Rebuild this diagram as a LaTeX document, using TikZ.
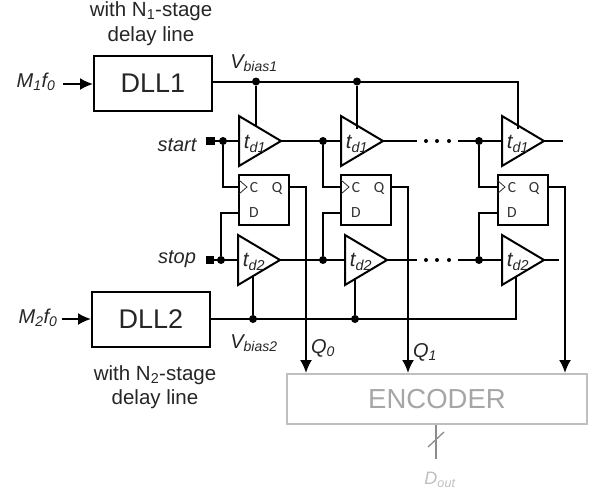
\documentclass[tikz,border=0pt]{standalone}
\usepackage{fontspec}
\setmainfont{Liberation Sans}
\newfontfamily\ffont{Carlito}
\usetikzlibrary{shapes.geometric,arrows.meta}
\tikzstyle{connector} = [line width=2pt]
\tikzstyle{arrowline} = [line width=2pt, -{Latex[length=13pt,width=12pt]}]
\tikzstyle{graywire} = [line width=1.3pt, color=black!45]
\tikzstyle{amp} = [draw, line width=2pt, isosceles triangle, isosceles triangle stretches, minimum width=50pt, minimum height=42pt, inner sep=0pt, outer sep=0pt, anchor=lower side]
\tikzstyle{dll} = [draw, line width=2pt, minimum width=118pt, minimum height=55pt, inner sep=0pt, font=\fontsize{27}{30}\selectfont, text=black!85]
\tikzstyle{ff} = [draw, line width=2pt, minimum width=50pt, minimum height=50pt, inner sep=0pt]
\tikzstyle{pin} = [font=\ffont\fontsize{15.5}{17}\selectfont, inner sep=0pt, text=black!80]
\tikzstyle{dot} = [circle, fill=black, inner sep=0pt, minimum size=8pt]
\tikzstyle{port} = [rectangle, fill=black, inner sep=0pt, minimum size=8.5pt]
\tikzstyle{lbl} = [font=\itshape\fontsize{20}{23}\selectfont, inner sep=0pt, text=black!85]
\tikzstyle{note} = [font=\fontsize{20.5}{24.5}\selectfont, align=center, inner sep=0pt, text=black!85]
\tikzstyle{delay} = [font=\itshape\fontsize{20.5}{23}\selectfont, inner sep=0pt, text=black!85]
\tikzstyle{clk} = [line width=0.8pt, color=black!85]

\begin{document}
\begin{tikzpicture}[x=1pt,y=-1pt]
    \useasboundingbox (0,0) rectangle (592,496);

    % the two locked loops
    \node (dll1) [dll] at (153,83.5) {DLL1};
    \node (dll2) [dll] at (151,319) {DLL2};
    \node (note1) [note] at (151,23.5) {with N\textsubscript{1}-stage\\delay line};
    \node (note2) [note] at (155,387) {with N\textsubscript{2}-stage\\delay line};
    \node (in1) [lbl] at (36,82) {M\textsubscript{1}f\textsubscript{0}};
    \node (in2) [lbl] at (38,318) {M\textsubscript{2}f\textsubscript{0}};
    \coordinate (in1e) at (63,84);
    \coordinate (in2e) at (62,319);
    \draw [arrowline] (in1e) -- (in1e -| dll1.west);
    \draw [arrowline] (in2e) -- (in2e -| dll2.west);

    % delay cells
    \node (a1) [amp] at (239,141) {};
    \node (a2) [amp] at (341,141) {};
    \node (a3) [amp] at (502,141) {};
    \node (b1) [amp] at (238,260) {};
    \node (b2) [amp] at (345,260) {};
    \node (b3) [amp] at (502,260) {};
    \node (ta1) [delay] at (255,144) {t\textsubscript{d1}};
    \node (ta2) [delay] at (357,144) {t\textsubscript{d1}};
    \node (ta3) [delay] at (518,144) {t\textsubscript{d1}};
    \node (tb1) [delay] at (254,262) {t\textsubscript{d2}};
    \node (tb2) [delay] at (361,262) {t\textsubscript{d2}};
    \node (tb3) [delay] at (518,262) {t\textsubscript{d2}};

    % flip flops
    \node (f1) [ff] at (264,200) {};
    \node (f2) [ff] at (366,200) {};
    \node (f3) [ff] at (522.5,200) {};
    \node (c1) [pin] at (254,188) {C};
    \node (q1) [pin] at (277,188) {Q};
    \node (d1) [pin] at (254,213) {D};
    \node (c2) [pin] at (356,188) {C};
    \node (q2) [pin] at (379,188) {Q};
    \node (d2) [pin] at (356,213) {D};
    \node (c3) [pin] at (512,188) {C};
    \node (q3) [pin] at (534,188) {Q};
    \node (d3) [pin] at (512,213) {D};
    \coordinate (ck1) at (239,187);
    \coordinate (ck2) at (341,187);
    \coordinate (ck3) at (497,187);
    \coordinate (dn1) at (239,213);
    \coordinate (dn2) at (341,213);
    \coordinate (dn3) at (497,213);
    \coordinate (qo1) at (289,187);
    \coordinate (qo2) at (391,187);
    \coordinate (qo3) at (548,187);
    \draw [clk] (239,180) -- (ck1 -| 247,0) -- (239,194);
    \draw [clk] (341,180) -- (ck2 -| 349,0) -- (341,194);
    \draw [clk] (497,180) -- (ck3 -| 505,0) -- (497,194);

    % input ports and taps
    \node (start) [port] at (210.5,141) {};
    \node (stop) [port] at (210,260) {};
    \node (startl) [lbl] at (177,145) {start};
    \node (stopl) [lbl] at (177,259) {stop};
    \node (sa1) [dot] at (223,141) {};
    \node (sa2) [dot] at (323,141) {};
    \node (sa3) [dot] at (479,141) {};
    \node (sb1) [dot] at (221,260) {};
    \node (sb2) [dot] at (323,260) {};
    \node (sb3) [dot] at (479,260) {};

    \draw [connector] (start) -- (a1.lower side);
    \draw [connector] (a1.apex) -- (a2.lower side);
    \coordinate (ga1) at (417,141);
    \coordinate (ga2) at (458,141);
    \coordinate (ga3) at (563,141);
    \draw [connector] (a2.apex) -- (ga1);
    \draw [connector] (ga2) -- (a3.lower side);
    \draw [connector] (a3.apex) -- (ga3);
    \draw [connector] (stop) -- (b1.lower side);
    \draw [connector] (b1.apex) -- (b2.lower side);
    \coordinate (gb1) at (417,260);
    \coordinate (gb2) at (458,260);
    \coordinate (gb3) at (559,260);
    \draw [connector] (b2.apex) -- (gb1);
    \draw [connector] (gb2) -- (b3.lower side);
    \draw [connector] (b3.apex) -- (gb3);

    \node (ga) [dot, minimum size=4pt] at (426,141) {};
    \node (gb) [dot, minimum size=4pt] at (437,141) {};
    \node (gc) [dot, minimum size=4pt] at (449,141) {};
    \node (gd) [dot, minimum size=4pt] at (426,260) {};
    \node (ge) [dot, minimum size=4pt] at (437,260) {};
    \node (gf) [dot, minimum size=4pt] at (449,260) {};

    \draw [connector] (sa1) |- (ck1);
    \draw [connector] (sa2) |- (ck2);
    \draw [connector] (sa3) |- (ck3);
    \draw [connector] (sb1) |- (dn1);
    \draw [connector] (sb2) |- (dn2);
    \draw [connector] (sb3) |- (dn3);

    % bias lines
    \node (v1) [dot] at (256,81.5) {};
    \node (v2) [dot] at (357,81.5) {};
    \node (w1) [dot] at (253,319) {};
    \node (w2) [dot] at (355,319) {};
    \coordinate (v3) at (518,81.5);
    \coordinate (w3) at (516,319);
    \coordinate (ea1) at (256,126);
    \coordinate (ea2) at (357,129);
    \coordinate (ea3) at (518,129);
    \coordinate (eb1) at (253,276);
    \coordinate (eb2) at (355,278);
    \coordinate (eb3) at (516,277);
    \draw [connector] (dll1.east |- v1) -- (v3) -- (ea3);
    \draw [connector] (dll2.east |- w1) -- (w3) -- (eb3);
    \draw [connector] (v1) -- (ea1);
    \draw [connector] (v2) -- (ea2);
    \draw [connector] (w1) -- (eb1);
    \draw [connector] (w2) -- (eb2);
    \node (vl1) [lbl] at (254,63) {V\textsubscript{bias1}};
    \node (vl2) [lbl] at (254,343) {V\textsubscript{bias2}};

    % encoder
    \node (enc) [draw=black!25, line width=2pt, minimum width=300pt, minimum height=50pt, inner sep=0pt, font=\fontsize{27.5}{30}\selectfont, text=black!35] at (437,399) {ENCODER};
    \draw [arrowline] (qo1) -| (enc.north -| 306,0);
    \draw [arrowline] (qo2) -| (enc.north -| 408,0);
    \draw [arrowline] (qo3) -| (enc.north -| 565,0);
    \node (ql0) [lbl] at (323,348) {Q\textsubscript{0}};
    \node (ql1) [lbl] at (425,352) {Q\textsubscript{1}};
    \coordinate (oute) at (436,459);
    \coordinate (sl1) at (428,447);
    \coordinate (sl2) at (444,432);
    \draw [graywire] (enc.south -| oute) -- (oute);
    \draw [graywire] (sl1) -- (sl2);
    \node (out) [lbl, text=black!25, font=\itshape\fontsize{18}{20}\selectfont] at (440,480) {D\textsubscript{out}};
\end{tikzpicture}
\end{document}
